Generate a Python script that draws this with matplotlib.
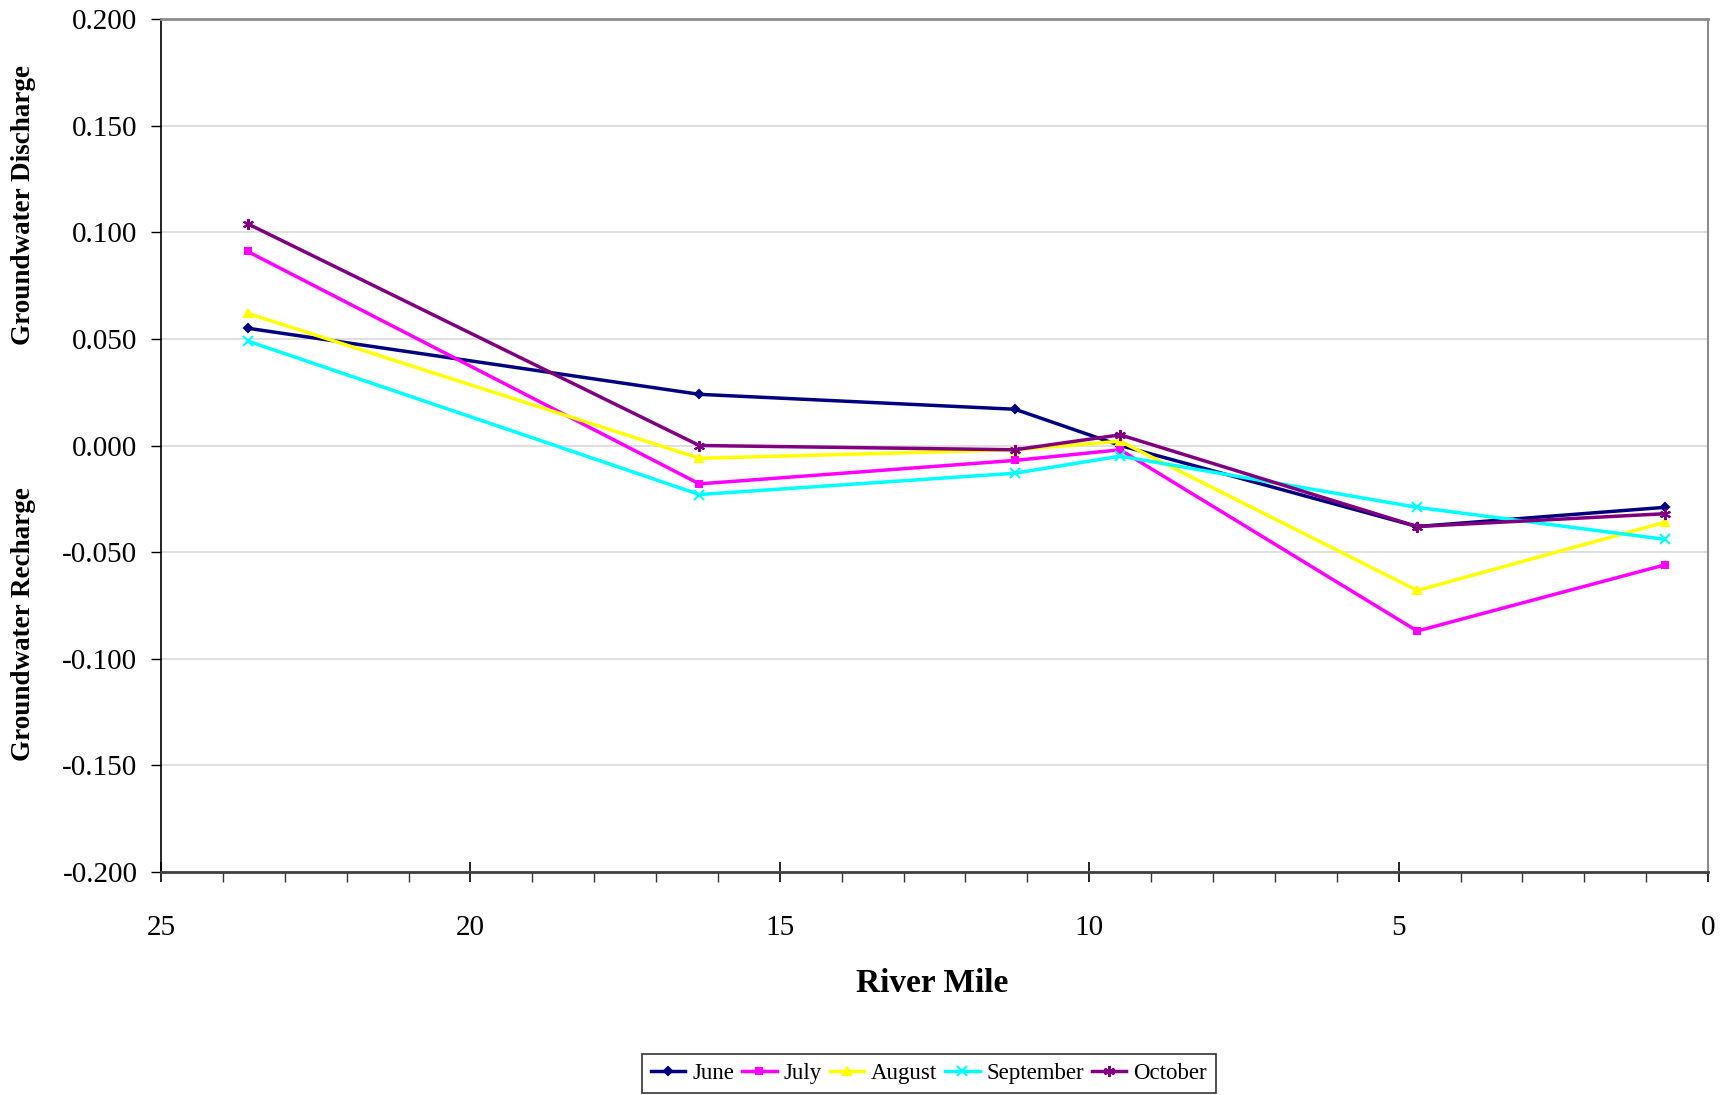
import numpy as np
import matplotlib
matplotlib.use("Agg")
import matplotlib.pyplot as plt
from matplotlib.ticker import MultipleLocator, FormatStrFormatter

plt.rcParams['font.family'] = ['Liberation Serif', 'DejaVu Serif']

# river mile of each sampling station
river_mile = [23.6, 16.3, 11.2, 9.5, 4.7, 0.7]

june = [0.055, 0.024, 0.017, 0.000, -0.038, -0.029]
july = [0.091, -0.018, -0.007, -0.002, -0.087, -0.056]
august = [0.062, -0.006, -0.002, 0.002, -0.068, -0.036]
september = [0.049, -0.023, -0.013, -0.005, -0.029, -0.044]
october = [0.104, 0.000, -0.002, 0.005, -0.038, -0.032]

months = ['June', 'July', 'August', 'September', 'October']
series = [june, july, august, september, october]
colors = ['#000080', '#FF00FF', '#FFFF00', '#00FFFF', '#800080']
markers = ['D', 's', '^', 'x', (6, 2, 0)]
msizes = [4.5, 5, 6, 7, 8]

fig = plt.figure(figsize=(17.33, 10.95), dpi=100)
ax = fig.add_axes([0.0929, 0.2037, 0.8927, 0.7789])

for name, vals, c, m, ms in zip(months, series, colors, markers, msizes):
    ax.plot(river_mile, vals, color=c, lw=2.5, marker=m, markersize=ms,
            markeredgewidth=1.5, label=name, zorder=3)

ax.set_xlim(25, 0)
ax.set_ylim(-0.2, 0.2)
ax.xaxis.set_major_locator(MultipleLocator(5))
ax.xaxis.set_minor_locator(MultipleLocator(1))
ax.yaxis.set_major_locator(MultipleLocator(0.05))
ax.yaxis.set_major_formatter(FormatStrFormatter('%.3f'))

ax.grid(True, axis='y', color='#d9d9d9', lw=1.2, zorder=0)
ax.tick_params(axis='y', which='major', direction='out', length=7, width=1,
               labelsize=21, pad=10)
ax.tick_params(axis='x', which='major', direction='inout', length=14, width=1.2,
               labelsize=21, pad=24)
ax.tick_params(axis='x', which='minor', direction='out', length=7, width=1,
               color='#333333')

ax.spines['left'].set_color('black')
ax.spines['left'].set_linewidth(1.2)
ax.spines['bottom'].set_color('#404040')
ax.spines['bottom'].set_linewidth(2)
ax.spines['top'].set_color('#8c8c8c')
ax.spines['top'].set_linewidth(2)
ax.spines['right'].set_color('#8c8c8c')
ax.spines['right'].set_linewidth(1.5)

fig.text(932 / 1733, 1 - 983 / 1095, 'River Mile', ha='center', va='center',
         fontsize=24, fontweight='bold')
fig.text(24 / 1733, 1 - 205 / 1095, 'Groundwater Discharge', rotation=90,
         ha='center', va='center', fontsize=19.5, fontweight='bold')
fig.text(24 / 1733, 1 - 624 / 1095, 'Groundwater Recharge', rotation=90,
         ha='center', va='center', fontsize=19.5, fontweight='bold')

leg = fig.legend(loc='upper center', bbox_to_anchor=(929 / 1733, 1 - 1054 / 1095),
                 ncol=5, fontsize=16.5, frameon=True, fancybox=False,
                 handlelength=1.5, handletextpad=0.3, columnspacing=0.35,
                 borderpad=0.4, borderaxespad=0)
leg.get_frame().set_edgecolor('black')
leg.get_frame().set_linewidth(1.2)

fig.savefig('out.png', dpi=100)
